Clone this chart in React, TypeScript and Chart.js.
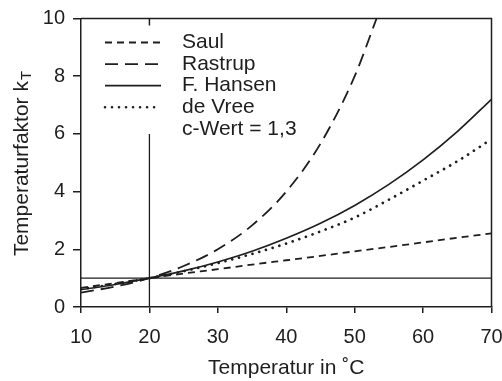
import React, { useEffect, useRef } from "react";
import { Chart, registerables } from "chart.js";

Chart.register(...registerables);

// ---- data ----
const temperatures = [10, 15, 20, 25, 30, 35, 40, 45, 50, 55, 60, 65, 70];
const saulValues = [0.66, 0.83, 1.0, 1.16, 1.31, 1.47, 1.62, 1.77, 1.93, 2.08, 2.24, 2.4, 2.55];
const hansenValues = [0.6, 0.78, 1.0, 1.25, 1.56, 1.93, 2.38, 2.9, 3.52, 4.25, 5.1, 6.08, 7.2];
const deVreeValues = [0.62, 0.8, 1.0, 1.24, 1.52, 1.84, 2.2, 2.62, 3.1, 3.72, 4.38, 5.05, 5.82];
const rastrupTemps = [10, 15, 20, 25, 30, 35, 40, 45, 50, 53.2];
const rastrupValues = [0.5, 0.71, 1.0, 1.42, 2.0, 2.83, 4.0, 5.66, 8.0, 10.0];
const refLineTemps = [10, 70];
const refLineValues = [1, 1];
const markerTemps = [20, 20];
const markerValues = [0, 6];
const xTickValues = [10, 20, 30, 40, 50, 60, 70];
const yTickValues = [0, 2, 4, 6, 8, 10];
const legendLabels = ["Saul", "Rastrup", "F. Hansen", "de Vree"];
const legendNote = "c-Wert = 1,3";
const xTitle = "Temperatur in \u02DAC";
const yTitleMain = "Temperaturfaktor k";
const yTitleSub = "T";

const INK = "#1e1e1e";
const FONT = "'Liberation Sans', Arial, Helvetica, sans-serif";
const DASH_SAUL = [7, 5];
const DASH_RASTRUP = [13, 7];
const DASH_DOT = [0.01, 7];

const pts = (xs: number[], ys: number[]) => xs.map((x, i) => ({ x, y: ys[i] }));

const framePlugin = {
  id: "frameAndLegend",
  afterDraw(chart: any) {
    const { ctx, chartArea } = chart;
    const { left, right, top, bottom } = chartArea;
    const xs = chart.scales.x;
    ctx.save();
    ctx.strokeStyle = INK;
    ctx.lineWidth = 1.5;
    ctx.beginPath();
    ctx.moveTo(left, top);
    ctx.lineTo(right, top);
    ctx.lineTo(right, bottom);
    ctx.stroke();
    // top tick at 20
    const x20 = xs.getPixelForValue(20);
    ctx.beginPath();
    ctx.moveTo(x20, top);
    ctx.lineTo(x20, top + 7);
    ctx.stroke();

    // legend
    const styles = [
      { dash: DASH_SAUL, cap: "butt", w: 1.8 },
      { dash: DASH_RASTRUP, cap: "butt", w: 1.8 },
      { dash: [], cap: "butt", w: 1.8 },
      { dash: DASH_DOT, cap: "round", w: 2.6 },
    ];
    const lx0 = left + 24;
    const lx1 = left + 80;
    const tx = left + 101;
    const rowY = (i: number) => top + 24 + i * 21.6;
    ctx.font = `21px ${FONT}`;
    ctx.fillStyle = INK;
    ctx.textBaseline = "middle";
    ctx.textAlign = "left";
    legendLabels.forEach((lab, i) => {
      const s = styles[i];
      ctx.setLineDash(s.dash);
      ctx.lineCap = s.cap;
      ctx.lineWidth = s.w;
      ctx.beginPath();
      ctx.moveTo(lx0, rowY(i));
      ctx.lineTo(lx1, rowY(i));
      ctx.stroke();
      ctx.fillText(lab, tx, rowY(i));
    });
    ctx.setLineDash([]);
    ctx.fillText(legendNote, tx, rowY(4));

    // y-axis title with subscript
    ctx.save();
    ctx.translate(22, 164);
    ctx.rotate(-Math.PI / 2);
    ctx.font = `21px ${FONT}`;
    const wMain = ctx.measureText(yTitleMain).width;
    ctx.font = `15px ${FONT}`;
    const wSub = ctx.measureText(yTitleSub).width;
    const total = wMain + wSub;
    ctx.font = `21px ${FONT}`;
    ctx.textAlign = "left";
    ctx.textBaseline = "middle";
    ctx.fillText(yTitleMain, -total / 2, 0);
    ctx.font = `15px ${FONT}`;
    ctx.fillText(yTitleSub, -total / 2 + wMain + 1, 5);
    ctx.restore();
    ctx.restore();
  },
};

export default function App() {
  const ref = useRef<HTMLCanvasElement>(null);
  useEffect(() => {
    document.body.style.margin = "0";
    const canvas = ref.current!;
    const line = (data: any, dash: number[], w: number, cap = "butt") => ({
      data,
      borderColor: INK,
      borderWidth: w,
      borderDash: dash,
      borderCapStyle: cap,
      pointRadius: 0,
      fill: false,
      tension: 0.4,
      cubicInterpolationMode: "monotone",
    });
    const chart = new Chart(canvas, {
      type: "line",
      data: {
        datasets: [
          line(pts(temperatures, saulValues), DASH_SAUL, 1.8),
          line(pts(rastrupTemps, rastrupValues), DASH_RASTRUP, 1.8),
          line(pts(temperatures, hansenValues), [], 1.7),
          line(pts(temperatures, deVreeValues), DASH_DOT, 2.7, "round"),
          { ...line(pts(refLineTemps, refLineValues), [], 1.3), tension: 0 },
          { ...line(pts(markerTemps, markerValues), [], 1.3), tension: 0 },
        ] as any,
      },
      options: {
        animation: false,
        responsive: false,
        parsing: false as any,
        layout: { padding: { top: 18.5, right: 10.5, left: 0, bottom: 0 } },
        plugins: { legend: { display: false }, tooltip: { enabled: false } },
        scales: {
          x: {
            type: "linear",
            min: 10,
            max: 70,
            afterBuildTicks: (s: any) => {
              s.ticks = xTickValues.map((v) => ({ value: v }));
            },
            afterFit: (s: any) => {
              s.height = 74;
              s.paddingLeft = 0;
              s.paddingRight = 0;
            },
            grid: { display: true, drawOnChartArea: false, drawTicks: true, tickLength: 6, color: INK, lineWidth: 1.5 },
            border: { display: true, color: INK, width: 1.5 },
            ticks: { color: INK, font: { size: 20, family: FONT }, padding: 12 },
            title: {
              display: true,
              text: xTitle,
              color: INK,
              font: { size: 21, family: FONT },
              padding: { top: 0, bottom: 0 },
            },
          },
          y: {
            type: "linear",
            min: 0,
            max: 10,
            afterBuildTicks: (s: any) => {
              s.ticks = yTickValues.map((v) => ({ value: v }));
            },
            afterFit: (s: any) => {
              s.width = 81;
              s.paddingTop = 0;
              s.paddingBottom = 0;
            },
            grid: { display: true, drawOnChartArea: false, drawTicks: true, tickLength: 8, color: INK, lineWidth: 1.5 },
            border: { display: true, color: INK, width: 1.5 },
            ticks: { color: INK, font: { size: 20, family: FONT }, padding: 8 },
          },
        },
      },
      plugins: [framePlugin],
    } as any);
    return () => chart.destroy();
  }, []);
  return (
    <div style={{ width: 502, height: 381 }}>
      <canvas ref={ref} width={502} height={381} />
    </div>
  );
}
